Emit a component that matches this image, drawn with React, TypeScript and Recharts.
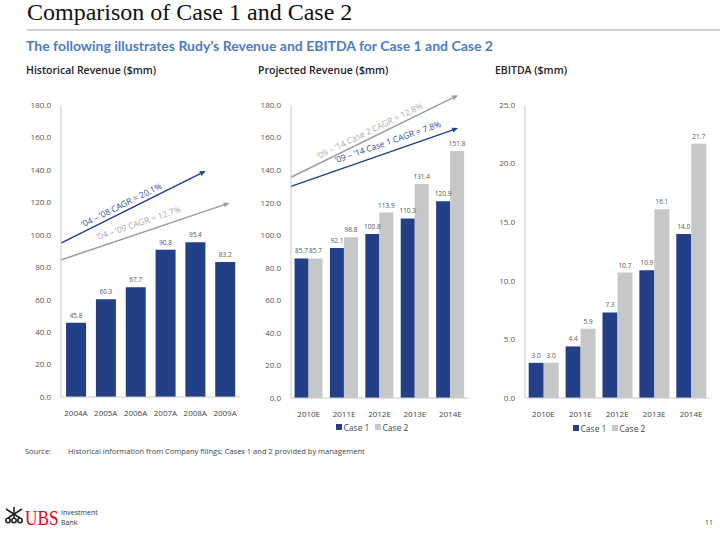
import React from 'react'
import { BarChart, Bar, XAxis, YAxis, LabelList, ReferenceLine, Legend } from 'recharts'

const NAVY = '#233F87'
const SILVER = '#C6C7C9'
const ARROW_GREY = '#9C9C9C'
const AXIS = '#C8C8C8'
const SANS = '"Open Sans", sans-serif'
const NARROW = '"Liberation Sans Narrow", "Open Sans", sans-serif'

// historical revenue ($mm)
const histYears = ['2004A', '2005A', '2006A', '2007A', '2008A', '2009A']
const histRevenue = [45.8, 60.3, 67.7, 90.8, 95.4, 83.2]

// projections
const projYears = ['2010E', '2011E', '2012E', '2013E', '2014E']
const revenueCase1 = [85.7, 92.1, 100.8, 110.3, 120.9]
const revenueCase2 = [85.7, 98.8, 113.9, 131.4, 151.8]
const ebitdaCase1 = [3.0, 4.4, 7.3, 10.9, 14.0]
const ebitdaCase2 = [3.0, 5.9, 10.7, 16.1, 21.7]

const caseNames = ['Case 1', 'Case 2']
const revenueTicks = [0, 20, 40, 60, 80, 100, 120, 140, 160, 180]
const ebitdaTicks = [0, 5, 10, 15, 20, 25]

// CAGR arrows, ends given as [category position, value]
const histArrows = [
  { label: '’04 – ’08 CAGR = 20.1%', from: [0, 94.9], to: [4.85, 139.3], series: 0 },
  { label: '’04 – ’09 CAGR = 12.7%', from: [0, 84.5], to: [5.65, 119.6], series: 1 },
]
const projArrows = [
  { label: '’09 – ’14 Case 2 CAGR = 12.8%', from: [0, 135.6], to: [4.72, 186.0], series: 1 },
  { label: '’09 – ’14 Case 1 CAGR = 7.8%', from: [0, 130.0], to: [4.72, 165.8], series: 0 },
]

// where the text sits along each arrow (fraction, px above the line)
const histTextPlace = [[0.44, 4], [0.48, 7]]
const projTextPlace = [[0.49, 4], [0.6, 7]]

const histData = histYears.map((year, i) => ({ year, slot: i + 0.5, revenue: histRevenue[i] }))
const revenueData = projYears.map((year, i) => ({ year, slot: i + 0.5, case1: revenueCase1[i], case2: revenueCase2[i] }))
const ebitdaData = projYears.map((year, i) => ({ year, slot: i + 0.5, case1: ebitdaCase1[i], case2: ebitdaCase2[i] }))

const fmt = (v: any) => Number(v).toFixed(1)

const arrowShape = (color: string, textColor: string, text: string, at: number, lift: number) => (p: any) => {
  const { x1, y1, x2, y2 } = p
  const dx = x2 - x1
  const dy = y2 - y1
  const len = Math.hypot(dx, dy) || 1
  const ux = dx / len
  const uy = dy / len
  const nx = uy
  const ny = -ux
  const bx = x2 - ux * 6
  const by = y2 - uy * 6
  const pts = `${x2},${y2} ${bx + nx * 2.6},${by + ny * 2.6} ${bx - nx * 2.6},${by - ny * 2.6}`
  const tx = x1 + dx * at + nx * lift
  const ty = y1 + dy * at + ny * lift
  const angle = (Math.atan2(dy, dx) * 180) / Math.PI
  return (
    <g>
      <line x1={x1} y1={y1} x2={bx} y2={by} stroke={color} strokeWidth={1.5} />
      <polygon points={pts} fill={color} />
      <text
        x={tx}
        y={ty}
        transform={`rotate(${angle} ${tx} ${ty})`}
        textAnchor="middle"
        fontSize={8.5}
        fontFamily={SANS}
        fill={textColor}
      >
        {text}
      </text>
    </g>
  )
}

const renderArrows = (arrows: typeof histArrows, place: number[][]) =>
  arrows.map((a, i) => (
    <ReferenceLine
      key={a.label}
      xAxisId="pos"
      segment={[
        { x: a.from[0], y: a.from[1] },
        { x: a.to[0], y: a.to[1] },
      ]}
      ifOverflow="visible"
      shape={arrowShape(
        a.series === 0 ? NAVY : ARROW_GREY,
        a.series === 0 ? '#2F4D98' : '#ABABAB',
        a.label,
        place[i][0],
        place[i][1]
      )}
    />
  ))

const CaseLegend = (props: any) => {
  const items = props.payload || []
  return (
    <div
      style={{
        display: 'flex',
        justifyContent: 'center',
        alignItems: 'center',
        height: 12,
        fontSize: 8.5,
        fontFamily: NARROW,
        color: '#444',
      }}
    >
      {items.map((it: any, i: number) => (
        <span key={it.value} style={{ display: 'flex', alignItems: 'center', marginLeft: i ? 5 : 0 }}>
          <span style={{ width: 6, height: 6, background: it.color, marginRight: 2 }} />
          {it.value}
        </span>
      ))}
    </div>
  )
}

const xTick = { fontSize: 8, fill: '#444', fontFamily: NARROW }
const yTick = { fontSize: 8, fill: '#555', fontFamily: SANS }
const barLabel = { fontSize: 6.5, fill: '#555', fontFamily: SANS }

function HistoricalChart() {
  return (
    <BarChart width={250} height={330} data={histData} margin={{ top: 10, right: 10, bottom: 0, left: 0 }} barCategoryGap="17%">
      <XAxis dataKey="year" axisLine={{ stroke: AXIS }} tickLine={false} tick={xTick} tickMargin={7} height={28} interval={0} />
      <XAxis xAxisId="pos" dataKey="slot" type="number" domain={[0, histYears.length]} allowDataOverflow hide />
      <YAxis
        domain={[0, 180]}
        ticks={revenueTicks}
        tickFormatter={fmt}
        axisLine={{ stroke: AXIS }}
        tickLine={false}
        tick={yTick}
        tickMargin={4}
        width={61}
        interval={0}
      />
      <Bar dataKey="revenue" fill={NAVY} isAnimationActive={false}>
        <LabelList dataKey="revenue" position="top" formatter={fmt} style={barLabel} />
      </Bar>
      {renderArrows(histArrows, histTextPlace)}
    </BarChart>
  )
}

function CaseChart({ data, ticks, max, yWidth, right, bottom, legendWidth, arrows }: any) {
  return (
    <BarChart width={240} height={340} data={data} margin={{ top: 10, right, bottom, left: 0 }} barCategoryGap="10%" barGap={0}>
      <XAxis dataKey="year" axisLine={{ stroke: AXIS }} tickLine={false} tick={xTick} tickMargin={7} height={37 - bottom - 12} interval={0} />
      <XAxis xAxisId="pos" dataKey="slot" type="number" domain={[0, projYears.length]} allowDataOverflow hide />
      <YAxis
        domain={[0, max]}
        ticks={ticks}
        tickFormatter={fmt}
        axisLine={{ stroke: AXIS }}
        tickLine={false}
        tick={yTick}
        tickMargin={4}
        width={yWidth}
        interval={0}
      />
      <Legend
        verticalAlign="bottom"
        content={<CaseLegend />}
        wrapperStyle={{ left: 0, width: legendWidth, bottom, height: 12 }}
      />
      <Bar dataKey="case1" name={caseNames[0]} fill={NAVY} isAnimationActive={false}>
        <LabelList dataKey="case1" position="top" formatter={fmt} style={barLabel} />
      </Bar>
      <Bar dataKey="case2" name={caseNames[1]} fill={SILVER} isAnimationActive={false}>
        <LabelList dataKey="case2" position="top" formatter={fmt} style={barLabel} />
      </Bar>
      {arrows ? renderArrows(arrows, projTextPlace) : null}
    </BarChart>
  )
}

function KeysLogo() {
  return (
    <svg width={22} height={18} viewBox="0 0 22 18" style={{ position: 'absolute', left: 3, top: 506 }}>
      <g stroke="#222" strokeWidth={1.6} fill="none">
        <line x1={11} y1={1} x2={11} y2={12} />
        <line x1={3} y1={3} x2={17} y2={12} />
        <line x1={19} y1={3} x2={5} y2={12} />
        <circle cx={5} cy={14.5} r={2.2} />
        <circle cx={11} cy={14.5} r={2.2} />
        <circle cx={17} cy={14.5} r={2.2} />
      </g>
    </svg>
  )
}

const abs = (left: number, top: number, extra: any = {}) => ({ position: 'absolute' as const, left, top, lineHeight: 1, whiteSpace: 'nowrap' as const, ...extra })

export default function App() {
  return (
    <div style={{ position: 'absolute', left: 0, top: 0, width: 720, height: 533, background: '#fff', fontFamily: SANS, overflow: 'hidden' }}>
      <div style={abs(27, 0, { fontFamily: '"Liberation Serif", serif', fontSize: 24, color: '#111' })}>
        Comparison of Case 1 and Case 2
      </div>
      <div style={{ position: 'absolute', left: 27, right: 0, top: 29, height: 2, background: '#D0D0D0' }} />
      <div style={abs(26, 39, { fontFamily: 'Lato, sans-serif', fontWeight: 700, fontSize: 14, color: '#4C7CC5' })}>
        The following illustrates Rudy’s Revenue and EBITDA for Case 1 and Case 2
      </div>
      <div style={abs(26, 65, { fontWeight: 600, fontSize: 10.5, color: '#222' })}>Historical Revenue ($mm)</div>
      <div style={abs(258, 65, { fontWeight: 600, fontSize: 10.5, color: '#222' })}>Projected Revenue ($mm)</div>
      <div style={abs(495, 65, { fontWeight: 600, fontSize: 10.5, color: '#222' })}>EBITDA ($mm)</div>

      <div style={{ position: 'absolute', left: 0, top: 95 }}>
        <HistoricalChart />
      </div>
      <div style={{ position: 'absolute', left: 250, top: 95 }}>
        <CaseChart data={revenueData} ticks={revenueTicks} max={180} yWidth={41} right={22} bottom={2} legendWidth={244} arrows={projArrows} />
      </div>
      <div style={{ position: 'absolute', left: 480, top: 95 }}>
        <CaseChart data={ebitdaData} ticks={ebitdaTicks} max={25} yWidth={45} right={10.5} bottom={1} legendWidth={258} />
      </div>

      <div style={abs(25, 448, { fontSize: 7.5, color: '#444', fontFamily: NARROW })}>Source:</div>
      <div style={abs(68, 448, { fontSize: 7.5, color: '#444', fontFamily: NARROW })}>
        Historical information from Company filings; Cases 1 and 2 provided by management
      </div>

      <KeysLogo />
      <div style={abs(25, 508, { fontFamily: '"Liberation Serif", serif', fontSize: 21, color: '#E30613', transform: 'scaleX(0.82)', transformOrigin: 'left top' })}>
        UBS
      </div>
      <div style={abs(61, 509, { fontSize: 7, color: '#333', fontFamily: NARROW })}>Investment</div>
      <div style={abs(61, 519, { fontSize: 7, color: '#333', fontFamily: NARROW })}>Bank</div>
      <div style={abs(705, 519, { fontSize: 7, color: '#444', fontFamily: NARROW })}>11</div>
    </div>
  )
}
